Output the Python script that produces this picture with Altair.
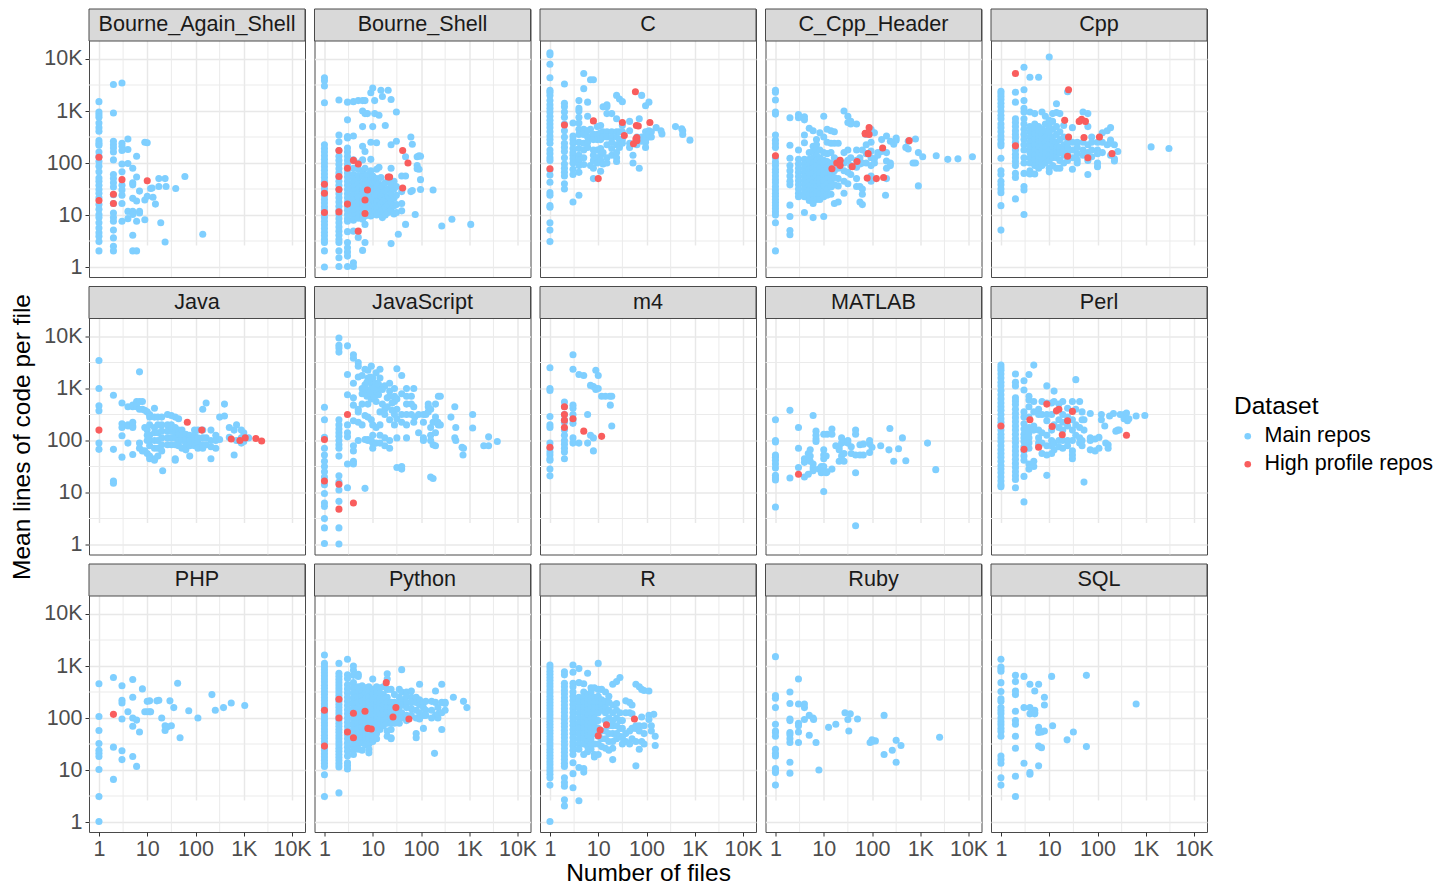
import altair as alt
import pandas as pd

# Every reading is (log10 number of files, [log10 mean lines of code per file, ...]).
NAMES = [
    "Bourne_Again_Shell", "Bourne_Shell", "C", "C_Cpp_Header", "Cpp",
    "Java", "JavaScript", "m4", "MATLAB", "Perl",
    "PHP", "Python", "R", "Ruby", "SQL",
]

BASH_MAIN = [
    (0, [3.18, 2.98, 2.93, 2.88, 2.77, 2.68, 2.61, 2.43, 2.38, 2.34, 2.21, 2.13, 2.03, 1.94, 1.83, 1.71, 1.65, 1.57, 1.49, 1.42, 1.33, 1.2, 1.11, 1.01, .95, .85, .75, .66, .59, .49, .31]),
    (.30, [3.51, 2.96, 2.42, 2.35, 2.29, 2.21, 2.06, 1.78, 1.70, 1.62, 1.54, 1.39, 1.22, 1.04, .95, .88, .71, .56, .40, .31]),
    (.477, [3.54, 2.38, 2.32, 2.24, 1.98, 1.83, 1.57, 1.48, 1.38, 1.22, .88]),
    (.60, [2.46, 2.26, 1.99, 1.07, .93]), (.70, [1.90, 1.62, 1.58, 1.32, 1.07, 1.01, .61, .31]),
    (.78, [2.13, 1.73, 1.27, .88, .31]), (.84, [1.46, 1.07, 1.04]), (.95, [2.40, 1.29, .91]),
    (1.0, [2.39, 1.36]), (1.07, [1.51]), (1.10, [1.52]), (1.12, [1.34]), (1.17, [1.21]),
    (1.24, [1.70, 1.55]), (1.28, [.85]), (1.37, [1.70, .48]), (1.39, [1.55]), (1.59, [1.51]),
    (1.78, [1.74]), (2.15, [.63]),
]
BASH_HIGH = [(0, [2.11, 1.28]), (.30, [1.40, 1.22]), (.477, [1.68]), (1.0, [1.66])]

SH_MAIN = [
    (0, [3.64, 3.58, 3.48, 3.16, 2.35, 2.28, 2.21, 2.14, 2.07, 2.0, 1.93, 1.86, 1.79, 1.72, 1.65, 1.58, 1.51, 1.44, 1.37, 1.3, 1.23, 1.16, 1.09, 1.02, .95, .88, .81, .74, .67, .6, .53, .47, .31, 0]),
    (.30, [3.21, 2.54, 2.41, 2.24, 2.13, 2.05, 1.97, 1.89, 1.81, 1.73, 1.65, 1.57, 1.49, 1.41, 1.33, 1.25, 1.17, 1.09, 1.01, .93, .85, .77, .69, .61, .53, .47, .31, .18, .01]),
    (.477, [3.17, 2.83, 2.51, 2.48, 2.29, 2.21, 2.13, 2.05, 1.97, 1.89, 1.81, 1.73, 1.65, 1.57, 1.49, 1.41, 1.33, 1.25, 1.17, 1.09, 1.01, .93, .88, .68, .47, .37, .29, .21, .01]),
    (.60, [3.18, 2.52, 2.06, 1.9, 1.78, 1.7, 1.62, 1.54, 1.46, 1.38, 1.3, 1.22, 1.14, 1.06, .98, .9, .69, .08, .01]),
    (.70, [3.2, 2.0, 1.88, 1.76, 1.68, 1.6, 1.5, 1.42, 1.34, 1.26, 1.18, 1.1, 1.02, .94, .57]),
    (.79, [3.2, 3.0, 2.7, 2.32, 2.06, 1.85, 1.74, 1.62, 1.5, 1.4, 1.3, 1.2, 1.1, 1.0, .92, .32]),
    (.84, [3.2, 2.95, 2.22, 1.9, 1.7, 1.58, 1.46, 1.34, 1.22, 1.1, .98, .82, .47]),
    (.89, [1.78, 1.6, 1.45, 1.3, 1.15, 1.0, 2.95]),
    (.96, [3.35, 2.4, 2.07, 1.85, 1.68, 1.52, 1.4, 1.25, 1.12, .98]),
    (1.0, [3.44, 2.7, 1.75, 1.6, 1.46, 1.32, 1.18, 1.04]),
    (1.04, [3.2, 2.95, 1.66, 1.5, 1.36, 1.22, 1.08]),
    (1.08, [2.39, 1.88, 1.7, 1.54, 1.4, 1.26, 1.12, 1.0]),
    (1.13, [2.92, 1.92, 1.6, 1.46, 1.3, 1.16, 1.04]),
    (1.17, [3.4, 1.72, 1.52, 1.36, 1.2, 1.05]),
    (1.2, [3.28, 1.55, 1.4, 1.25, 1.1, .95]),
    (1.26, [2.72, 1.62, 1.46, 1.3, 1.15, 1.0]),
    (1.32, [3.4, 1.68, 1.5, 1.35, 1.2, 1.05]),
    (1.38, [3.22, 2.35, 1.9, 1.58, 1.42, 1.25, 1.1, .45]),
    (1.44, [1.65, 1.5, 1.32, 1.18, 1.02]), (1.49, [2.98, 2.42, 1.55, 1.38, 1.2, 1.05]),
    (1.53, [.63]), (1.6, [1.75, 1.45, 1.22, 1.08]), (1.68, [2.12, 1.75, .82]), (1.79, [2.5, 1.45]),
    (1.82, [2.36, 1.47]), (1.88, [1.01]), (1.92, [2.12, 1.95, 1.89]), (1.96, [2.14, 1.88]),
    (1.99, [2.13, 1.68, 1.49]), (2.25, [1.48]), (2.43, [.79]), (2.64, [.92]), (3.03, [.82]),
]
SH_HIGH = [
    (0, [1.59, 1.42, 1.05]), (.30, [2.24, 1.74, 1.49, 1.06]), (.477, [1.9, 1.21]),
    (.60, [2.05]), (.70, [1.98]), (.84, [1.03]), (.89, [1.48]), (.84, [1.29]), (.70, [.69]),
    (1.32, [1.73]), (1.35, [1.73]), (1.62, [1.52]), (1.62, [2.24]), (1.73, [2.0]),
]

C_MAIN = [
    (0, [4.12, 4.08, 3.9, 3.64, 3.4, 3.36, 3.3, 3.2, 3.12, 3.05, 2.98, 2.9, 2.82, 2.75, 2.68, 2.6, 2.52, 2.45, 2.38, 2.25, 2.18, 2.1, 2.05, 1.87, 1.77, 1.63, 1.43, 1.38, 1.18, 1.15, .85, .71, .49]),
    (.30, [3.52, 3.15, 3.08, 2.98, 2.88, 2.75, 2.62, 2.5, 2.38, 2.3, 2.22, 2.1, 1.98, 1.9, 1.82, 1.75, 1.6, 1.5]),
    (.477, [2.77, 2.52, 2.45, 2.38, 2.28, 2.2, 2.15, 2.08, 2.0, 1.88, 1.25, 1.78]),
    (.60, [3.2, 3.05, 3.0, 2.88, 2.77, 2.65, 2.55, 2.4, 2.28, 2.15, 2.05, 1.95, 1.82, 1.38]),
    (.70, [3.72, 3.43, 2.65, 2.55, 2.38, 2.25, 2.1, 1.97]),
    (.78, [3.17, 2.9, 2.62, 2.5, 2.4, 2.3]), (.84, [3.6, 2.65, 2.5, 1.95]),
    (.90, [3.6, 2.55, 2.45, 2.25, 2.15, 2.05, 1.9, 1.7]), (.98, [2.7, 2.55, 2.45, 2.25, 2.1, 2.0]),
    (1.05, [2.72, 2.58, 2.45, 2.28, 2.15, 2.05, 1.84]), (1.1, [3.08, 2.6, 2.5, 1.98, 2.2]),
    (1.18, [3.12, 3.08, 2.95, 2.6, 2.5, 2.35, 2.1, 2.0]), (1.28, [2.95, 2.6, 2.5, 2.4, 2.28, 2.15]),
    (1.38, [3.3, 2.85, 2.6, 2.5, 2.35, 2.2, 2.1, 2.03]), (1.44, [3.23, 2.6, 2.45, 2.3]),
    (1.5, [3.18, 2.72, 2.45, 2.6, 2.38]), (1.65, [2.8, 2.62, 2.38, 2.3]), (1.72, [2.15, 2.0]),
    (1.8, [2.35, 2.5]), (1.85, [1.9, 2.48, 2.85]), (1.9, [3.3, 2.5, 2.42]), (1.98, [3.1, 2.5, 2.4, 2.3, 2.6, 2.45]),
    (2.05, [3.17, 2.62, 2.5, 2.55]), (2.1, [2.6, 2.5]), (2.2, [2.68]), (2.3, [2.62]), (2.32, [2.56]),
    (2.6, [2.7]), (2.73, [2.66]), (2.75, [2.62, 2.55]), (2.9, [2.44]),
]
C_HIGH = [
    (0, [1.89]), (.30, [2.73]), (.90, [2.81]), (1.0, [1.70]), (1.5, [2.78]), (1.54, [2.53]),
    (1.77, [3.37]), (1.8, [2.49, 2.43]), (1.73, [2.37]), (1.78, [2.46]), (1.79, [2.72]), (1.83, [2.71]), (2.07, [2.78]),
]

HDR_MAIN = [
    (0, [3.4, 3.36, 3.21, 2.98, 2.94, 2.54, 2.44, 2.37, 2.3, 2.1, 2.02, 1.95, 1.88, 1.82, 1.75, 1.68, 1.62, 1.55, 1.48, 1.42, 1.36, 1.3, 1.24, 1.18, 1.12, 1.06, 1.0, .85, .31]),
    (.30, [2.87, 2.34, 2.09, 1.95, 1.85, 1.75, 1.65, 1.58, 1.19, .97, .7, .62]),
    (.477, [2.93, 2.87, 2.25, 2.07, 1.98, 1.9, 1.82, 1.74, 1.66, 1.58, 1.5, 1.42, 1.35]),
    (.60, [2.89, 2.83, 2.54, 2.39, 2.07, 1.98, 1.9, 1.82, 1.74, 1.66, 1.58, 1.5, 1.42, 1.35, 1.05]),
    (.70, [2.67, 2.2, 2.07, 1.97, 1.88, 1.8, 1.72, 1.64, 1.56, 1.48, 1.4, 1.3, 1.28]),
    (.78, [2.62, 2.32, 2.22, 2.1, 2.0, 1.9, 1.8, 1.7, 1.62, 1.54, 1.46, 1.38, 1.3, 1.22, .95]),
    (.85, [2.45, 2.35, 2.25, 2.15, 2.05, 1.95, 1.85, 1.75, 1.65, 1.55, 1.45, 1.35, 1.3]),
    (.92, [2.58, 2.25, 2.1, 2.0, 1.9, 1.8, 1.7, 1.6, 1.5, 1.4, 1.3]),
    (1.0, [2.9, 2.5, 2.2, 2.05, 1.95, 1.85, 1.75, 1.65, 1.55, 1.45, 1.35, .97]),
    (1.07, [2.65, 2.4, 2.18, 2.03, 1.92, 1.8, 1.7, 1.6, 1.5, 1.38]),
    (1.15, [2.62, 2.38, 2.2, 2.0, 1.9, 1.78, 1.66, 1.54, 1.4]),
    (1.22, [2.6, 2.38, 2.1, 2.0, 1.85, 1.72, 1.58, 1.22]), (1.3, [2.38, 2.05, 1.9, 1.7, 1.56, 1.25]),
    (1.42, [3.0, 2.2, 2.0, 1.85, 1.65, 1.42]), (1.5, [2.9, 2.78, 2.25, 2.05, 1.82, 1.6]),
    (1.56, [2.8, 2.75, 2.1, 1.95, 1.78]), (1.68, [2.75, 2.25, 2.05, 1.92, 1.7, 1.55]),
    (1.75, [2.1, 1.98, 1.55, 1.25]), (1.8, [2.0, 2.25, 1.5, 1.2, 1.4]), (1.88, [2.55, 2.35, 2.18, 2.0]),
    (1.98, [2.65, 2.4, 2.23, 2.1, 1.95, 1.75, 1.65]), (2.05, [2.58, 2.08, 2.0]), (2.12, [2.2, 2.15]),
    (2.2, [2.45, 2.22]), (2.3, [2.52, 2.2, 2.04, 1.9, 1.7]), (2.38, [2.42, 2.0, 1.95]), (2.45, [2.36]),
    (2.5, [2.48, 2.44]), (2.7, [2.3]), (2.75, [2.27, 2.42]), (2.9, [2.46, 2.0]), (2.96, [2.2, 1.56]),
    (3.05, [2.12]), (3.33, [2.14]), (3.57, [2.07]), (3.78, [2.08]), (4.08, [2.12]), (2.85, [2.0]), (2.28, [1.38]),
]
HDR_HIGH = [
    (0, [2.14]), (1.17, [1.89]), (1.27, [2.0]), (1.34, [2.05, 1.95]), (1.59, [1.93]), (1.69, [2.03]),
    (1.86, [2.57, 2.56]), (1.94, [2.68, 2.55]), (1.92, [2.18]), (2.22, [2.29]), (1.9, [1.71]),
    (2.09, [1.7]), (2.24, [1.72]), (2.77, [2.43]),
]

CPP_MAIN = [
    (0, [3.38, 3.33, 3.28, 3.22, 3.15, 3.08, 3.0, 2.92, 2.85, 2.75, 2.68, 2.6, 2.52, 2.45, 2.38, 2.33, 2.09, 1.85, 1.78, 1.65, 1.58, 1.5, 1.43, 1.18, .71]),
    (.30, [3.36, 3.17, 2.85, 2.78, 2.7, 2.62, 2.55, 2.48, 2.4, 2.33, 2.25, 2.17, 2.1, 2.03, 1.95, 1.8, 1.72, 1.31]),
    (.477, [3.84, 3.41, 3.2, 3.05, 2.98, 2.85, 2.75, 2.65, 2.55, 2.45, 2.35, 2.25, 2.1, 2.0, 1.8, 1.55, 1.48, 1.01]),
    (.60, [3.65, 2.98, 2.7, 2.6, 2.5, 2.4, 2.3, 2.2, 2.1, 2.0, 1.85, 1.79]),
    (.70, [2.95, 2.75, 2.65, 2.55, 2.45, 2.35, 2.25, 2.15, 2.05, 1.95, 1.79]),
    (.78, [3.65, 2.7, 2.6, 2.5, 2.4, 2.3, 2.2, 2.1, 2.0, 1.9]),
    (.85, [2.98, 2.65, 2.55, 2.45, 2.35, 2.25, 2.15, 2.05, 1.95]),
    (.92, [2.9, 2.75, 2.62, 2.5, 2.4, 2.3, 2.2, 2.1, 2.0]),
    (1.0, [4.04, 2.82, 2.7, 2.58, 2.45, 2.35, 2.25, 2.15, 2.05, 1.9, 1.83]),
    (1.07, [2.95, 2.8, 2.65, 2.5, 2.4, 2.3, 2.2, 2.1, 1.95]),
    (1.15, [3.14, 2.97, 2.7, 2.55, 2.4, 2.3, 2.2, 2.1, 1.9]),
    (1.22, [2.95, 2.6, 2.45, 2.3, 2.2, 2.05, 1.9]), (1.3, [2.72, 2.5, 2.35, 2.25, 2.15, 2.0]),
    (1.38, [3.37, 2.4, 2.3, 2.18, 2.05]), (1.48, [2.68, 2.4, 2.25, 2.1, 1.88]), (1.58, [2.4, 2.3, 2.18, 2.0, 2.06]),
    (1.7, [2.98, 2.4, 2.25, 2.15]), (1.8, [2.95, 2.7, 2.35, 2.2, 2.05, 1.78]), (1.88, [2.5, 2.4, 2.25, 2.12]),
    (2.0, [2.4, 2.25, 2.18, 2.0, 1.93]), (2.1, [2.58, 2.4, 2.2]), (2.2, [2.62, 2.35]), (2.27, [2.68, 2.44, 2.38, 2.15]),
    (2.35, [2.35, 2.08, 2.04]), (2.42, [2.22]), (3.11, [2.31]), (3.48, [2.28]),
]
CPP_HIGH = [
    (.30, [3.72]), (.30, [2.33]), (1.4, [3.41]), (1.32, [2.82]), (1.62, [2.8]), (1.67, [2.84]), (1.75, [2.8]),
    (1.4, [2.5]), (1.72, [2.49]), (2.04, [2.5]), (1.38, [2.13]), (1.8, [2.1]), (2.3, [2.18]),
]

JAVA_MAIN = [
    (0, [3.54, 3.0, 2.67, 2.57, 1.95, 1.83]), (.30, [2.87, 1.83, 1.22, 1.18]), (.477, [2.72, 2.32, 2.25, 2.09, 1.68]),
    (.60, [2.65, 2.28, 1.95, 2.3]), (.70, [2.68, 2.65, 2.28, 2.25, 2.35, 1.73]), (.78, [2.75, 2.65]),
    (.84, [3.32, 2.75, 2.6, 1.95, 1.85]), (.90, [2.75, 2.6, 1.8]), (.95, [2.58, 2.25, 1.8]),
    (1.0, [2.55, 2.2, 2.1, 2.0, 1.75]), (1.05, [2.5, 2.45, 2.3, 2.1, 2.0, 1.9, 1.7, 1.65]),
    (1.15, [2.62, 2.45, 2.25, 2.15, 2.0, 1.85, 1.65, 1.62]), (1.22, [2.45, 2.3, 2.15, 2.0, 1.85, 1.7]),
    (1.3, [2.45, 2.3, 2.18, 2.05, 1.92, 1.8]), (1.32, [1.42]), (1.42, [2.5, 2.3, 2.18, 2.05, 1.92]), (1.5, [2.48, 2.3, 2.18, 2.05, 1.92]),
    (1.58, [2.45, 2.25, 2.15, 2.05, 1.92, 1.62, 1.65]), (1.65, [2.42, 2.2, 2.1, 2.0, 1.9]), (1.72, [2.2, 2.1, 2.0, 1.85]),
    (1.8, [2.12, 2.02, 1.92, 1.82]), (1.88, [2.1, 2.0, 1.9, 1.7]), (1.98, [2.2, 2.1, 2.0, 1.9]),
    (2.05, [2.2, 2.05, 1.95, 1.85]), (2.15, [2.6, 2.2, 2.05, 1.92, 1.85]), (2.22, [2.72, 2.05, 1.92]),
    (2.32, [2.2, 2.0, 1.88, 1.65]), (2.42, [2.1, 2.0, 1.85]), (2.5, [2.45, 2.02]), (2.6, [2.47, 2.7]), (2.7, [2.25, 2.06]),
    (2.8, [2.2, 1.72]), (2.85, [2.3, 2.0]), (2.95, [2.2, 2.05, 1.95]), (3.0, [2.15, 1.98]), (3.1, [2.05]),
]
JAVA_HIGH = [(0, [2.2]), (1.83, [2.35]), (2.13, [2.2]), (2.74, [2.03]), (2.92, [2.0]), (3.03, [2.05]), (3.25, [2.04]), (3.37, [1.99])]

JS_MAIN = [
    (0, [2.64, 2.4, 2.06, 1.85, 1.72, 1.6, 1.5, 1.4, 1.3, 1.15, .98, .8, .73, .5, .32, .02]),
    (.30, [3.97, 3.83, 3.78, 3.7, 2.4, 2.3, 2.22, 2.15, 2.08, 2.0, 1.92, 1.85, 1.7, 1.32, 1.2, 1.05, .83, .32, .01]),
    (.477, [3.82, 3.27, 2.88, 2.3, 2.15, 2.07, 1.55, 1.09]),
    (.60, [3.65, 3.58, 3.1, 2.82, 2.68, 2.38, 1.9, 1.8, 1.6, 1.55]), (.70, [3.5, 3.43, 3.22, 2.55, 2.6, 2.35, 2.0]),
    (.78, [3.25, 3.0, 2.9, 2.7, 2.3]), (.84, [3.37, 3.07, 3.0, 2.48, 2.02, 1.08]), (.9, [3.35, 3.2, 2.92, 2.7, 2.45, 2.02, 2.0]),
    (.97, [3.43, 3.1, 3.0, 2.8, 2.4, 2.0]), (1.0, [3.2, 2.9, 2.3, 2.1, 1.95, 1.85]), (1.07, [3.3, 3.1, 2.95, 2.75, 2.25, 1.95]),
    (1.15, [3.37, 3.2, 3.0, 2.55, 2.3, 2.1, 1.95]), (1.25, [3.05, 2.6, 2.5, 2.05, 1.9]), (1.35, [3.1, 2.95, 2.85, 2.4, 2.0, 1.85]),
    (1.45, [3.0, 2.85, 2.75, 2.5, 2.3]), (1.5, [3.38, 2.8, 2.6, 2.42, 2.05, 1.48]), (1.6, [3.25, 2.9, 2.5, 2.35, 1.5, 1.45]),
    (1.7, [3.0, 2.85, 2.7, 2.5, 2.3, 2.05]), (1.8, [2.85, 2.7, 2.5]), (1.85, [3.0, 2.65, 2.35]), (1.87, [2.45]), (1.95, [2.5, 2.15]),
    (2.05, [2.5, 2.35, 2.05, 2.0]), (2.1, [2.5]), (2.15, [2.65, 2.7, 2.55]), (2.2, [2.6, 2.25, 2.1, 1.3, 2.0]), (2.25, [2.35, 1.92, 1.27]),
    (2.3, [2.7, 2.45, 2.15, 1.9]), (2.35, [2.32, 2.35]), (2.36, [2.85, 2.3]), (2.4, [2.85, 2.3]), (2.62, [2.45]), (2.7, [2.65, 2.05]),
    (2.72, [2.25, 2.0]), (2.85, [1.87]), (2.87, [1.72]), (2.88, [1.85]), (3.07, [2.5, 2.24]), (3.3, [1.9]), (3.4, [1.9, 2.07]), (3.58, [1.98]),
    (.88, [3.12, 2.85]), (.95, [3.22, 2.92]), (1.03, [3.02, 2.82]), (1.12, [3.08, 2.88]), (1.2, [2.98, 2.7]), (1.3, [2.82, 2.65]), (1.4, [2.72, 2.58]),
]
JS_HIGH = [(0, [2.02, 1.22]), (.30, [1.16, .68]), (.477, [2.5]), (.6, [.8])]

M4_MAIN = [
    (0, [3.4, 3.0, 2.96, 2.46, 2.3, 2.25, 1.95, 1.85, 1.78, 1.72, 1.65, 1.62, 1.45, 1.32]),
    (.30, [2.74, 2.65, 2.5, 2.4, 2.35, 2.2, 2.1, 2.0, 1.93, 1.85, 1.78, 1.65]),
    (.477, [3.65, 3.37, 2.68, 2.62, 2.5, 2.4, 2.33, 2.05, 1.95]), (.60, [3.27, 1.95]), (.70, [3.25]),
    (.78, [2.5, 1.95]), (.84, [3.06, 2.1]), (.90, [3.04, 2.05, 1.8]), (.95, [3.35, 3.0, 2.98]), (1.0, [3.25, 3.0]),
    (1.07, [2.85]), (1.15, [2.85]), (1.24, [2.85]), (1.28, [2.28, 2.85]), (1.25, [2.68]),
]
M4_HIGH = [(0, [1.87]), (.30, [2.65, 2.5, 2.39, 2.25]), (.477, [2.42]), (.70, [2.18]), (1.07, [2.08])]

MATLAB_MAIN = [
    (0, [2.4, 2.0, 1.97, 1.72, 1.68, 1.62, 1.55, 1.47, 1.33, 1.28, 1.24, .72]),
    (.30, [2.58, 1.28]), (.477, [2.25, 1.85, 1.48]), (.6, [1.65, 1.58, 1.3]), (.68, [1.75, 1.65, 1.35]),
    (.72, [1.82, 1.7, 1.6]), (.78, [2.48, 1.55, 1.47, 1.42]), (.84, [2.18, 2.1, 2.03, 1.98]), (.9, [1.45]), (.95, [1.5, 1.38]),
    (1.0, [2.12, 1.82, 1.72, 1.65, 1.5, 1.4, 1.02]), (1.05, [1.7, 1.38]), (1.07, [2.12, 1.4]), (1.17, [2.22, 2.12, 1.45]),
    (1.25, [1.9]), (1.32, [1.88, 1.82, 1.6]), (1.37, [2.05, 1.95, 1.7]), (1.42, [1.97, 1.75, 1.6]), (1.5, [2.0, 1.95]),
    (1.57, [1.88, 1.75]), (1.66, [2.2, 2.12, 1.38, 1.72, .36]), (1.75, [1.92, 1.72]), (1.82, [1.93, 1.72]), (1.95, [1.94, 2.0, 1.77]),
    (2.0, [1.87]), (2.18, [1.9]), (2.35, [1.82]), (2.37, [2.23]), (2.45, [1.6]), (2.55, [1.84]), (2.63, [2.05]), (2.7, [1.61]), (3.15, [1.95]), (3.32, [1.44]),
]
MATLAB_HIGH = [(.477, [1.35])]

PERL_MAIN = [
    (0, [3.45, 3.4, 3.35, 3.28, 3.2, 3.12, 3.05, 2.96, 2.88, 2.8, 2.72, 2.65, 2.58, 2.5, 2.42, 2.35, 2.28, 2.2, 2.12, 2.05, 1.98, 1.9, 1.82, 1.75, 1.68, 1.6, 1.52, 1.45, 1.38, 1.3, 1.22, 1.15, 1.11]),
    (.30, [3.28, 3.12, 3.05, 2.82, 2.76, 2.69, 2.6, 2.52, 2.44, 2.36, 2.28, 2.2, 2.12, 2.04, 1.96, 1.88, 1.8, 1.72, 1.64, 1.56, 1.48, 1.4, 1.32, 1.25, 1.09]),
    (.477, [3.15, 2.97, 2.55, 2.45, 2.32, 2.22, 2.12, 2.05, 1.98, 1.88, 1.8, 1.7, 1.62, 1.31, .82]),
    (.58, [3.27, 2.85, 2.78, 2.65, 2.45, 2.25, 2.15, 2.05, 1.95, 1.85, 1.45, 1.55]), (.68, [3.45, 2.75, 2.55, 2.28, 2.2, 1.6, 1.5]),
    (.78, [2.6, 2.5, 2.2, 2.05, 1.95, 1.9]), (.85, [2.75, 2.5, 2.15, 1.95, 1.75]), (.95, [3.05, 2.72, 2.5, 2.38, 2.1, 1.9, 1.72, 1.33]),
    (1.05, [2.72, 2.5, 2.2, 2.0, 1.9, 1.75]), (1.1, [2.95, 2.75, 2.3, 1.95, 1.82]), (1.2, [2.7, 2.4, 2.25, 2.0, 1.88]),
    (1.28, [2.75, 2.5, 2.35, 2.2, 2.0, 1.85]), (1.38, [2.62, 2.45, 2.28, 2.0, 1.9]), (1.48, [2.75, 2.4, 2.2, 2.0, 1.8, 1.72, 1.65]),
    (1.55, [3.17, 2.6, 2.3, 2.1]), (1.63, [2.75, 2.25, 2.05, 1.95]), (1.68, [2.55, 2.4, 2.0, 1.9]), (1.72, [2.4, 2.2, 1.2]),
    (1.85, [2.52, 2.05, 1.82, 2.0]), (1.95, [2.03, 1.8]), (2.03, [2.06, 1.85]), (2.08, [2.5, 2.4]), (2.15, [2.28]), (2.17, [1.95]), (2.22, [1.92, 1.85]),
    (2.25, [2.47]), (2.33, [2.52]), (2.38, [2.18]), (2.42, [2.2]), (2.45, [2.2]), (2.47, [2.5]), (2.55, [2.42, 2.5]), (2.6, [2.53]), (2.62, [2.38]), (2.65, [2.42]), (2.8, [2.47]), (2.98, [2.48]),
]
PERL_HIGH = [
    (0, [2.28]), (.477, [1.83]), (.60, [2.4]), (.78, [1.87]), (.95, [2.7]), (1.06, [2.27]), (1.15, [2.57]),
    (1.2, [2.6]), (1.27, [2.11]), (1.38, [2.38]), (1.48, [2.56]), (2.6, [2.1]),
]

PHP_MAIN = [
    (0, [2.66, 2.03, 1.76, 1.51, 1.38, 1.32, 1.26, 1.01, .49, .01]), (.30, [2.78, 1.44, .82]),
    (.477, [2.62, 2.34, 2.29, 1.98, 1.37, 1.2]), (.60, [2.12]), (.70, [2.74, 2.4, 2.0, 1.84, 1.26]),
    (.78, [1.96, 1.07]), (.84, [1.73]), (.90, [2.56]), (.95, [2.12]), (1.0, [2.32, 2.12]), (1.05, [2.33, 2.12]),
    (1.07, [2.12]), (1.2, [2.33]), (1.24, [2.34]), (1.3, [2.0]), (1.37, [1.85, 1.76]), (1.42, [1.83]), (1.5, [1.85]),
    (1.47, [2.33]), (1.55, [2.2]), (1.63, [2.67]), (1.68, [1.62]), (1.86, [2.14]), (2.05, [2.0]), (2.34, [2.45]),
    (2.41, [2.15]), (2.58, [2.2]), (2.74, [2.29]), (3.02, [2.24]),
]
PHP_HIGH = [(.30, [2.07])]

PY_MAIN = [
    (0, [3.21, 3.05, 2.99, 2.93, 2.87, 2.81, 2.75, 2.69, 2.63, 2.57, 2.51, 2.45, 2.39, 2.33, 2.27, 2.21, 2.15, 2.09, 2.03, 1.97, 1.91, 1.85, 1.79, 1.73, 1.67, 1.61, 1.55, 1.49, 1.43, 1.37, 1.31, 1.25, 1.19, 1.13, 1.07, .91, .49]),
    (.30, [3.05, 2.86, 2.8, 2.74, 2.68, 2.62, 2.56, 2.5, 2.44, 2.38, 2.32, 2.26, 2.2, 2.14, 2.08, 2.02, 1.96, 1.9, 1.84, 1.78, 1.72, 1.66, 1.6, 1.54, 1.48, 1.42, 1.36, 1.3, 1.24, 1.18, 1.12, 1.06, .56]),
    (.477, [3.13, 2.83, 2.76, 2.64, 2.56, 2.48, 2.4, 2.32, 2.24, 2.16, 2.08, 2.0, 1.92, 1.84, 1.76, 1.68, 1.6, 1.52, 1.44, 1.36, 1.27, 1.14, 1.08, 1.02]),
    (.60, [3.0, 2.92, 2.82, 2.68, 2.58, 2.48, 2.38, 2.28, 2.18, 2.08, 1.98, 1.88, 1.78, 1.68, 1.58, 1.48, 1.38, 1.3]),
    (.70, [2.84, 2.8, 2.6, 2.5, 2.4, 2.3, 2.2, 2.1, 2.0, 1.9, 1.8, 1.7, 1.6, 1.5, 1.4]),
    (.78, [2.62, 2.52, 2.42, 2.32, 2.22, 2.12, 2.02, 1.92, 1.82, 1.72, 1.62, 1.52, 1.38]),
    (.85, [2.58, 2.48, 2.38, 2.28, 2.18, 2.08, 1.98, 1.88, 1.78, 1.68, 1.58, 1.5, 1.48]),
    (.92, [2.6, 2.5, 2.4, 2.3, 2.2, 2.1, 2.0, 1.9, 1.8, 1.7, 1.6, 1.5, 1.4, 1.33]),
    (1.0, [2.75, 2.55, 2.45, 2.35, 2.25, 2.15, 2.05, 1.95, 1.85, 1.75, 1.65, 1.55]),
    (1.08, [2.6, 2.5, 2.4, 2.3, 2.2, 2.1, 2.0, 1.9, 1.8, 1.7, 1.6]),
    (1.15, [2.58, 2.48, 2.38, 2.28, 2.18, 2.08, 1.98, 1.88, 1.78]),
    (1.22, [2.6, 2.45, 2.35, 2.25, 2.15, 2.05, 1.95, 1.85]),
    (1.3, [2.85, 2.75, 2.55, 2.4, 2.3, 2.2, 2.1, 2.0, 1.9, 1.75, 1.65]),
    (1.38, [2.55, 2.3, 2.2, 2.1, 2.0, 1.9, 1.78, 1.62, 1.6]), (1.45, [2.45, 2.3, 2.2, 2.1, 2.0, 1.9]),
    (1.55, [2.55, 2.4, 2.3, 2.2, 2.1, 2.0, 1.9]), (1.6, [2.93, 2.5, 2.35, 2.25, 2.1, 2.0]),
    (1.7, [2.5, 2.42, 2.3, 2.2, 2.05, 1.95]), (1.8, [2.52, 2.4, 2.3, 2.18, 2.05]), (1.9, [2.4, 2.3, 2.15, 2.0, 1.7, 1.62]),
    (1.97, [2.65, 2.35, 2.25, 2.1, 1.98]), (2.05, [2.3, 2.2, 2.05, 1.8]), (2.1, [2.32, 2.15, 2.05]), (2.22, [2.32, 2.15, 2.0]),
    (2.28, [1.32]), (2.3, [2.52, 2.3, 2.05]), (2.35, [2.2, 2.0, 2.07]), (2.43, [2.65, 2.3, 2.1, 1.78]), (2.5, [2.3, 2.15, 2.28]),
    (2.67, [2.4]), (2.88, [2.32]), (2.95, [2.2]),
]
PY_HIGH = [
    (0, [2.15, 1.46]), (.30, [2.36, 2.0]), (.477, [1.73]), (.60, [2.09, 1.62]), (.84, [2.13]), (.90, [1.8]),
    (.97, [1.79]), (1.28, [2.68]), (1.42, [2.02]), (1.48, [2.2]), (1.75, [1.98]),
]

R_MAIN = [
    (0, [3.02, 2.96, 2.9, 2.84, 2.78, 2.72, 2.66, 2.6, 2.54, 2.48, 2.42, 2.36, 2.3, 2.24, 2.18, 2.12, 2.06, 2.0, 1.94, 1.88, 1.82, 1.76, 1.7, 1.64, 1.58, 1.52, 1.46, 1.4, 1.34, 1.28, 1.22, 1.16, 1.1, 1.04, .98, .92, .85, .71, .01]),
    (.30, [2.89, 2.83, 2.67, 2.6, 2.53, 2.46, 2.39, 2.32, 2.25, 2.18, 2.11, 2.04, 1.97, 1.9, 1.83, 1.76, 1.69, 1.62, 1.55, 1.48, 1.41, 1.34, 1.27, 1.2, 1.13, 1.07, .85, .76, .69, .43, .31]),
    (.477, [3.02, 2.88, 2.67, 2.6, 2.5, 2.42, 2.34, 2.26, 2.18, 2.1, 2.02, 1.94, 1.86, 1.78, 1.7, 1.62, 1.54, 1.46, 1.38, 1.3, 1.14, .93, .66]),
    (.60, [2.95, 2.68, 2.4, 2.3, 2.2, 2.1, 2.0, 1.9, 1.8, 1.7, 1.6, 1.5, 1.4, 1.05, .41]),
    (.70, [2.66, 2.5, 2.4, 2.3, 2.2, 2.1, 2.0, 1.9, 1.8, 1.7, 1.6, 1.5, 1.3, 1.03, .96]),
    (.78, [2.86, 2.45, 2.35, 2.25, 2.15, 2.05, 1.95, 1.85, 1.75, 1.65, 1.55, 1.45, 1.35]),
    (.85, [2.58, 2.5, 2.4, 2.3, 2.2, 2.1, 2.0, 1.9, 1.8, 1.7, 1.6, 1.5, 1.4]),
    (.92, [2.58, 2.4, 2.3, 2.2, 2.1, 2.0, 1.9, 1.8, 1.7, 1.5, 1.3, 1.25]),
    (1.0, [3.05, 2.55, 2.42, 2.3, 2.2, 2.1, 1.95, 1.8, 1.65, 1.5, 1.3]),
    (1.07, [2.55, 2.35, 2.25, 2.15, 1.75, 1.6, 1.45]), (1.15, [2.5, 2.32, 2.2, 2.1, 1.95, 1.75, 1.6, 1.42]),
    (1.22, [2.42, 2.3, 2.15, 2.0, 1.85, 1.7, 1.55, 1.38]), (1.3, [2.65, 2.25, 2.1, 1.95, 1.85, 1.7, 1.55, 1.42, 1.2]),
    (1.38, [2.7, 2.28, 2.15, 2.0, 1.85, 1.7, 1.6]), (1.45, [2.78, 2.1, 1.95, 1.8, 1.65]), (1.5, [1.95, 1.8, 1.62, 1.5]),
    (1.57, [2.33, 2.1, 1.7, 1.55]), (1.65, [2.3, 2.1, 1.75, 1.5]), (1.7, [2.25, 2.08, 1.8, 1.6]), (1.78, [2.65, 1.85, 1.8, 1.55, 1.08]),
    (1.85, [2.6, 1.85, 1.75, 1.4]), (1.9, [2.55, 2.02, 1.55]), (1.95, [2.53, 1.85, 1.7, 1.5]), (2.05, [2.52, 2.05, 1.97]),
    (2.1, [1.75, 1.85]), (2.18, [1.65, 1.47]), (2.15, [2.07]),
]
R_HIGH = [(1.0, [1.66]), (1.04, [1.77]), (1.17, [1.87]), (1.75, [1.98])]

RUBY_MAIN = [
    (0, [3.18, 2.43, 2.38, 2.2, 1.88, 1.75, 1.72, 1.65, 1.4, 1.32, 1.27, 1.03, .98, .95, .71]),
    (.30, [2.5, 2.28, 1.98, 1.95, 1.72, 1.68, 1.6, 1.53, 1.15, .94]), (.477, [2.75, 2.27, 1.9, 1.85, 1.73, 1.53]),
    (.60, [2.27, 2.2, 1.97]), (.70, [2.05, 1.67]), (.78, [2.0]), (.79, [1.97]), (.84, [1.53]), (.9, [1.0]),
    (1.1, [1.82]), (1.25, [1.88]), (1.44, [2.1]), (1.5, [1.97]), (1.52, [1.75]), (1.55, [2.08]), (1.7, [1.98]), (1.96, [1.53]),
    (2.0, [1.58, 1.55]), (2.07, [1.56]), (2.25, [2.05, 1.3]), (2.42, [1.38]), (2.5, [1.15, 1.57]), (2.6, [1.47]), (3.4, [1.63]),
]
RUBY_HIGH = []

SQL_MAIN = [
    (0, [3.13, 2.98, 2.94, 2.9, 2.68, 2.51, 2.37, 2.32, 2.2, 2.14, 2.08, 2.0, 1.93, 1.87, 1.8, 1.74, 1.65, 1.27, 1.2, 1.13, .85, .71]),
    (.30, [2.82, 2.7, 2.52, 2.45, 2.13, 1.95, 1.88, 1.65, 1.42, .88, .49]), (.477, [2.8, 2.2, 1.13]),
    (.60, [2.65, 2.2, 2.08, .95, .92]), (.70, [2.52, 2.15, 2.1, 2.08]), (.78, [2.65, 1.82, 1.72, 1.46, 1.08]), (.84, [1.73, 1.43]),
    (.90, [2.4, 2.25, 1.75]), (1.05, [2.8]), (1.07, [1.85]), (1.37, [1.58]), (1.5, [1.73]), (1.77, [2.82, 1.45]), (2.8, [2.27]),
]
SQL_HIGH = []

MAIN = [BASH_MAIN, SH_MAIN, C_MAIN, HDR_MAIN, CPP_MAIN, JAVA_MAIN, JS_MAIN, M4_MAIN, MATLAB_MAIN, PERL_MAIN, PHP_MAIN, PY_MAIN, R_MAIN, RUBY_MAIN, SQL_MAIN]
HIGH = [BASH_HIGH, SH_HIGH, C_HIGH, HDR_HIGH, CPP_HIGH, JAVA_HIGH, JS_HIGH, M4_HIGH, MATLAB_HIGH, PERL_HIGH, PHP_HIGH, PY_HIGH, R_HIGH, RUBY_HIGH, SQL_HIGH]

SERIES = ["Main repos", "High profile repos"]
COLORS = ["#7fcfff", "#f95d5d"]
MAJOR = [1, 10, 100, 1000, 10000]
MINOR_X = [3.162, 31.62, 316.2, 3162]
MINOR_Y = [3.162, 31.62, 316.2, 3162]
XDOM = [0.622, 18530]
YDOM = [0.643, 22180]
FONT = "Liberation Sans"
LABEL = "datum.value >= 1000 ? (datum.value / 1000) + 'K' : datum.value"

PW, PH, SH = 216, 236, 32


def rows(i):
    out = []
    for k, table in enumerate((MAIN[i], HIGH[i])):
        for lx, vals in table:
            for ly in vals:
                out.append({"files": 10 ** lx, "lines": 10 ** ly, "Dataset": SERIES[k]})
    return pd.DataFrame(out)


xs = alt.Scale(type="log", domain=XDOM, nice=False)
ys = alt.Scale(type="log", domain=YDOM, nice=False, range=[PH + SH, SH])


def panel(i):
    row, col = divmod(i, 5)
    xaxis = alt.Axis(values=MAJOR, grid=True, gridColor="#e8e8e8", gridWidth=1.5, domain=False,
                     labels=row == 2, ticks=row == 2, labelExpr=LABEL, labelFontSize=21.5, labelColor="#4d4d4d",
                     tickColor="#333333", tickSize=4, labelPadding=2, labelFont=FONT, labelFlush=False,
                     labelOverlap=False,
                     title="Number of files" if (row == 2 and col == 2) else None,
                     titleFontSize=24.5, titleFont=FONT, titleColor="#000000", titleFontWeight="normal", titlePadding=2)
    yaxis = alt.Axis(values=MAJOR, grid=True, gridColor="#e8e8e8", gridWidth=1.5, domain=False,
                     labels=col == 0, ticks=col == 0, labelExpr=LABEL, labelFontSize=21.5, labelColor="#4d4d4d",
                     tickColor="#333333", tickSize=4, labelPadding=3, labelFont=FONT, labelOverlap=False,
                     title="Mean lines of code per file" if (row == 1 and col == 0) else None,
                     titleFontSize=24.5, titleFont=FONT, titleColor="#000000", titleFontWeight="normal", titlePadding=9)
    minor_x = alt.Chart(pd.DataFrame({"v": MINOR_X})).mark_rule(color="#ebebeb", strokeWidth=1).encode(
        x=alt.X("v:Q", scale=xs, axis=xaxis))
    minor_y = alt.Chart(pd.DataFrame({"v": MINOR_Y})).mark_rule(color="#ebebeb", strokeWidth=1).encode(
        y=alt.Y("v:Q", scale=ys, axis=yaxis))
    pts = alt.Chart(rows(i)).mark_circle(size=50, opacity=1).encode(
        x=alt.X("files:Q", scale=xs, axis=xaxis),
        y=alt.Y("lines:Q", scale=ys, axis=yaxis),
        color=alt.Color("Dataset:N", scale=alt.Scale(domain=SERIES, range=COLORS),
                        legend=alt.Legend(title="Dataset", orient="none", legendX=1145, legendY=386,
                                          titleFontSize=24.5, titleFont=FONT, titleColor="#000000", titleFontWeight="normal",
                                          labelFontSize=21.5, labelFont=FONT, labelColor="#000000", labelLimit=300,
                                          symbolSize=44, symbolType="circle", symbolOffset=3, rowPadding=5, titlePadding=6, labelOffset=6)),
    )
    label = pd.DataFrame({"label": [NAMES[i]]})
    band = alt.Chart(label).mark_rect(fill="#d9d9d9", stroke="#4a4a4a", strokeWidth=1).encode(
        x=alt.value(0), x2=alt.value(PW), y=alt.value(0), y2=alt.value(SH))
    text = alt.Chart(label).mark_text(font=FONT, fontSize=21.6, color="#1a1a1a", align="center", baseline="middle").encode(
        text="label:N", x=alt.value(PW / 2), y=alt.value(SH / 2))
    return alt.layer(minor_x, minor_y, pts, band, text).properties(
        width=PW, height=PH + SH, view=alt.ViewBackground(stroke="#4a4a4a", strokeWidth=1, fill="#ffffff"))


chart = alt.concat(*[panel(i) for i in range(15)], columns=5, spacing=alt.RowColnumber(row=9.5, column=9.5), bounds="flush").properties(
    padding={"left": 1, "top": 0, "right": 0, "bottom": 0}).resolve_scale(color="shared")

chart.save("out.html", embed_options={"renderer": "svg", "actions": False})
